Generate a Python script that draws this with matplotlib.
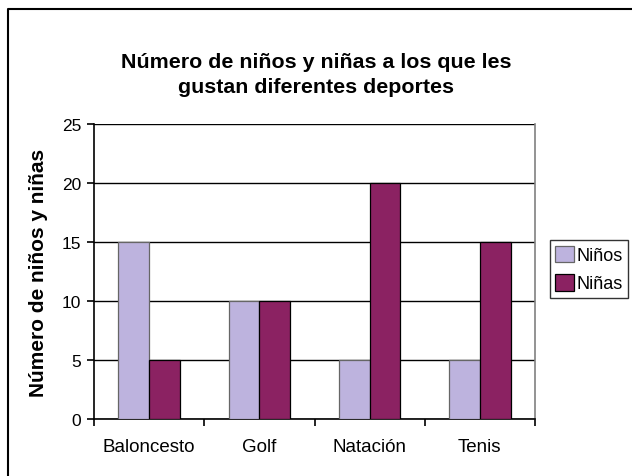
import numpy as np
import matplotlib.pyplot as plt
from matplotlib.lines import Line2D

plt.rcParams['font.family'] = ['Liberation Sans', 'DejaVu Sans']

# --- data ---
deportes = ["Baloncesto", "Golf", "Natación", "Tenis"]
ninos = [15, 10, 5, 5]
ninas = [5, 10, 20, 15]
series_names = ["Niños", "Niñas"]
yticks = [0, 5, 10, 15, 20, 25]

c_ninos = "#bdb3de"
c_ninas = "#8b2262"

fig = plt.figure(figsize=(6.32, 4.77), dpi=100)
ax = fig.add_axes([94 / 632, 1 - 420 / 477, 441 / 632, 295 / 477])

x = np.arange(len(deportes))
w = 0.28
ax.bar(x - w / 2, ninos, w, color=c_ninos, edgecolor="#666666", linewidth=0.9,
       label=series_names[0], zorder=3)
ax.bar(x + w / 2, ninas, w, color=c_ninas, edgecolor="black", linewidth=0.9,
       label=series_names[1], zorder=3)

ax.set_xlim(-0.5, len(deportes) - 0.5)
ax.set_ylim(0, 25)
ax.set_yticks(yticks)
ax.set_yticklabels([str(v) for v in yticks], fontsize=12.5)
ax.yaxis.grid(True, color="black", linewidth=1.0, zorder=0)
ax.set_axisbelow(True)

ax.set_xticks(np.arange(len(deportes) + 1) - 0.5, minor=False)
ax.set_xticklabels([])
ax.set_xticks(x, minor=True)
ax.set_xticklabels(deportes, minor=True, fontsize=13.5)
ax.tick_params(axis="x", which="minor", length=0, pad=14)
ax.tick_params(axis="x", which="major", direction="out", length=5, width=1.2)
ax.tick_params(axis="y", direction="out", length=5, width=1.2, pad=4)

for s in ["left", "bottom"]:
    ax.spines[s].set_color("black")
    ax.spines[s].set_linewidth(1.2)
ax.spines["top"].set_visible(False)
ax.spines["right"].set_color("#808080")
ax.spines["right"].set_linewidth(1.2)

ax.set_ylabel("Número de niños y niñas", fontsize=15, fontweight="bold", labelpad=10)

fig.text(0.5, 1 - 75 / 477, "Número de niños y niñas a los que les\ngustan diferentes deportes",
         ha="center", va="center", fontsize=15.4, fontweight="bold", linespacing=1.4)

leg = ax.legend(loc="center left", bbox_to_anchor=(550 / 632, 1 - 270 / 477),
                bbox_transform=fig.transFigure, fontsize=13, frameon=True,
                fancybox=False, edgecolor="black", borderpad=0.3,
                handlelength=1.05, handleheight=1.05, handletextpad=0.12,
                labelspacing=0.55, borderaxespad=0)
leg.get_frame().set_linewidth(1.0)

# outer frame (left and top edges)
fig.add_artist(Line2D([8 / 632, 8 / 632, 1.0], [0.0, 1 - 10 / 477, 1 - 10 / 477],
                      transform=fig.transFigure, color="black", linewidth=1.5))

fig.savefig("out.png", dpi=100)
